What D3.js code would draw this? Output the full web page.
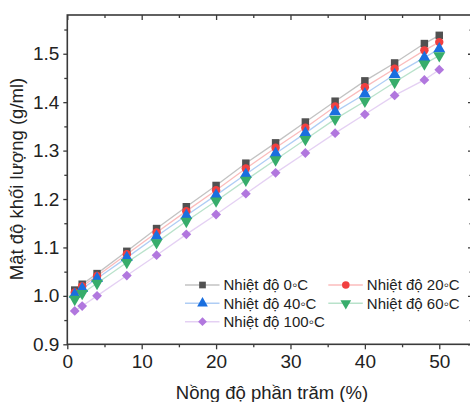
<!DOCTYPE html>
<html><head><meta charset="utf-8">
<script src="https://cdn.jsdelivr.net/npm/d3@7"></script>
<style>body{margin:0;background:#fff}svg{display:block}text{font-family:"Liberation Sans",Arial,sans-serif;fill:#222}</style>
</head><body><svg id="c" width="470" height="402"></svg>
<script>
const concentrations = [1, 2, 4, 8, 12, 16, 20, 24, 28, 32, 36, 40, 44, 48, 50];
const density0 = [1.012, 1.024, 1.046, 1.092, 1.139, 1.184, 1.228, 1.274, 1.316, 1.359, 1.402, 1.444, 1.481, 1.521, 1.538];
const density20 = [1.007, 1.020, 1.041, 1.086, 1.131, 1.175, 1.218, 1.263, 1.306, 1.347, 1.391, 1.431, 1.469, 1.507, 1.524];
const density40 = [1.003, 1.015, 1.036, 1.079, 1.123, 1.166, 1.208, 1.251, 1.294, 1.336, 1.380, 1.417, 1.457, 1.492, 1.510];
const density60 = [0.993, 1.005, 1.026, 1.069, 1.110, 1.154, 1.196, 1.239, 1.281, 1.323, 1.365, 1.402, 1.441, 1.479, 1.496];
const density100 = [0.969, 0.979, 1.000, 1.042, 1.084, 1.127, 1.168, 1.211, 1.254, 1.295, 1.336, 1.375, 1.414, 1.446, 1.467];
const seriesNames = ["Nhiệt độ 0◦C", "Nhiệt độ 20◦C", "Nhiệt độ 40◦C", "Nhiệt độ 60◦C", "Nhiệt độ 100◦C"];
const xTicks = [0, 10, 20, 30, 40, 50];
const yTicks = [0.9, 1.0, 1.1, 1.2, 1.3, 1.4, 1.5];
const xLabel = "Nồng độ phần trăm (%)";
const yLabel = "Mật độ khối lượng (g/ml)";

const colors = ["#515151", "#F14040", "#1A6FDF", "#37AD6B", "#B177DE"];
const symbols = [d3.symbolSquare, d3.symbolCircle, d3.symbolTriangle, d3.symbolTriangle, d3.symbolSquare];
const symSizes = [56, 56, 62, 62, 48];
const rotations = [0, 0, 0, 180, 45];
const seriesData = [density0, density20, density40, density60, density100];

const svg = d3.select("#c");
const L = 67.3, R = 472, T = 15, B = 344.3;
const x = d3.scaleLinear().domain([0, 54.4]).range([L, R]);
const y = d3.scaleLinear().domain([0.9, 1.58]).range([B, T]);
const axisColor = "#3a3a3a";

// axes
const gx = svg.append("g").attr("transform", `translate(0,${B})`)
  .call(d3.axisBottom(x).tickValues(xTicks).tickFormat(d3.format("d")).tickSize(5).tickPadding(5));
const gxm = svg.append("g").attr("transform", `translate(0,${B})`)
  .call(d3.axisBottom(x).tickValues([5,15,25,35,45]).tickFormat("").tickSize(3));
const gy = svg.append("g").attr("transform", `translate(${L},0)`)
  .call(d3.axisLeft(y).tickValues(yTicks).tickFormat(d3.format(".1f")).tickSize(4).tickPadding(4));
const gym = svg.append("g").attr("transform", `translate(${L},0)`)
  .call(d3.axisLeft(y).tickValues([0.95,1.05,1.15,1.25,1.35,1.45,1.55]).tickFormat("").tickSize(3));
const gt = svg.append("g").attr("transform", `translate(0,${T})`)
  .call(d3.axisBottom(x).tickValues(xTicks).tickFormat("").tickSize(5));
const gtm = svg.append("g").attr("transform", `translate(0,${T})`)
  .call(d3.axisBottom(x).tickValues([5,15,25,35,45]).tickFormat("").tickSize(3));
const gr = svg.append("g").attr("transform", `translate(${R},0)`)
  .call(d3.axisLeft(y).tickValues(yTicks).tickFormat("").tickSize(4));
const grm = svg.append("g").attr("transform", `translate(${R},0)`)
  .call(d3.axisLeft(y).tickValues([0.95,1.05,1.15,1.25,1.35,1.45,1.55]).tickFormat("").tickSize(2.5));
[gx,gxm,gy,gym,gt,gtm,gr,grm].forEach(g => {
  g.selectAll("path.domain").remove();
  g.selectAll("line").attr("stroke", axisColor).attr("stroke-width", 1.3);
});
gx.selectAll("text").attr("font-size", 19).attr("fill", "#222").attr("font-family", "Liberation Sans, Arial, sans-serif");
gy.selectAll("text").attr("font-size", 19).attr("fill", "#222").attr("font-family", "Liberation Sans, Arial, sans-serif");

// frame
svg.append("rect").attr("x", L).attr("y", T).attr("width", R - L).attr("height", B - T)
  .attr("fill", "none").attr("stroke", axisColor).attr("stroke-width", 1.6);

// series
const line = d3.line().x((d, i) => x(concentrations[i])).y(d => y(d));
seriesData.forEach((vals, s) => {
  svg.append("path").datum(vals).attr("d", line).attr("fill", "none")
    .attr("stroke", colors[s]).attr("stroke-opacity", 0.35).attr("stroke-width", 1.3);
});
seriesData.forEach((vals, s) => {
  svg.append("g").selectAll("path").data(vals).join("path")
    .attr("d", d3.symbol().type(symbols[s]).size(symSizes[s]))
    .attr("transform", (d, i) => `translate(${x(concentrations[i])},${y(d)}) rotate(${rotations[s]})`)
    .attr("fill", colors[s]);
});

// legend
const legPos = [[185, 285], [328.3, 285], [185, 303.3], [328.3, 303.3], [185, 321.7]];
seriesNames.forEach((name, s) => {
  const [lx, ly] = legPos[s];
  const g = svg.append("g").attr("transform", `translate(${lx},${ly})`);
  g.append("line").attr("x1", 0).attr("x2", 34.5).attr("y1", 0).attr("y2", 0)
    .attr("stroke", colors[s]).attr("stroke-opacity", 0.35).attr("stroke-width", 1.5);
  g.append("path").attr("d", d3.symbol().type(symbols[s]).size(symSizes[s] * 0.8))
    .attr("transform", `translate(17.5,0) rotate(${rotations[s]})`).attr("fill", colors[s]);
  g.append("text").attr("x", 38.5).attr("y", 0).attr("dy", "0.35em").attr("font-size", 15).text(name);
});

// titles
svg.append("text").attr("x", 272).attr("y", 393).attr("dy", "0.35em").attr("text-anchor", "middle")
  .attr("font-size", 18.5).text(xLabel);
svg.append("text").attr("transform", "translate(17,179) rotate(-90)").attr("dy", "0.35em")
  .attr("text-anchor", "middle").attr("font-size", 18.5).text(yLabel);
</script></body></html>
